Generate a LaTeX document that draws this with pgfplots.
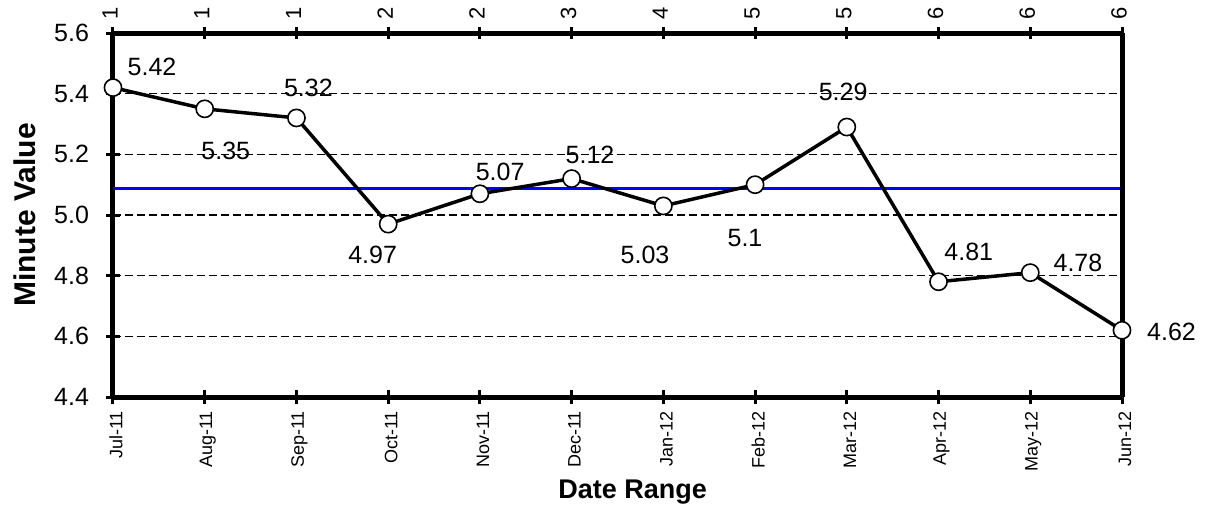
\documentclass[border=0pt]{standalone}
\usepackage{fontspec}
\setmainfont{Liberation Sans}
\usepackage{pgfplots}
\pgfplotsset{compat=1.18}

\pgfplotstableread{
x y
0  5.42
1  5.35
2  5.32
3  4.97
4  5.07
5  5.12
6  5.03
7  5.10
8  5.29
9  4.78
10 4.81
11 4.62
}\minutes

\begin{document}
\begin{tikzpicture}
\begin{axis}[
  scale only axis,
  width=504.5pt, height=182pt,
  xmin=0, xmax=11, ymin=4.4, ymax=5.6,
  axis line style={line width=2.5pt},
  axis x line*=bottom, axis y line*=left,
  xtick={0,...,11},
  xticklabels={Jul-11,Aug-11,Sep-11,Oct-11,Nov-11,Dec-11,Jan-12,Feb-12,Mar-12,Apr-12,May-12,Jun-12},
  xticklabel style={rotate=90, anchor=east, font=\fontsize{9}{10}\selectfont, yshift=-1.5pt},
  ytick={4.4,4.6,...,5.61},
  yticklabel style={font=\fontsize{12.5}{14}\selectfont, xshift=-5pt,
    /pgf/number format/.cd, fixed, fixed zerofill, precision=1},
  /pgf/number format/assume math mode=true,
  ymajorgrids, grid style={black, dash pattern=on 4pt off 2pt, line width=0.7pt},
  tick style={black, line width=1.5pt},
  major tick length=7pt,
  tick align=center,
  xlabel={\textbf{Date Range}},
  xlabel style={font=\fontsize{13.5}{15}\selectfont, at={(axis description cs:0.515,-0.261)}, anchor=center},
  ylabel={\textbf{Minute Value}},
  ylabel style={font=\fontsize{15}{17}\selectfont, at={(axis description cs:-0.0872,0.5)}, anchor=center},
  clip=false,
]
\addplot[blue, line width=1.5pt] coordinates {(0,5.086) (11,5.086)};
\addplot[black, line width=1.75pt, mark=*, mark size=4.3pt,
  mark options={fill=white, line width=0.8pt}] table[x=x, y=y] {\minutes};
\draw[line width=2.5pt] (axis cs:11,4.4) -- (axis cs:11,5.6);
\begin{scope}[font=\fontsize{12.5}{14}\selectfont]
\node at (axis cs:0.425,5.488) {5.42};
\node at (axis cs:1.23,5.211) {5.35};
\node at (axis cs:2.13,5.419) {5.32};
\node at (axis cs:2.83,4.868) {4.97};
\node at (axis cs:4.22,5.142) {5.07};
\node at (axis cs:5.2,5.198) {5.12};
\node at (axis cs:5.8,4.868) {5.03};
\node at (axis cs:6.89,4.924) {5.1};
\node at (axis cs:7.96,5.405) {5.29};
\node at (axis cs:9.33,4.878) {4.81};
\node at (axis cs:10.52,4.842) {4.78};
\node at (axis cs:11.54,4.614) {4.62};
\end{scope}
\end{axis}
\begin{axis}[
  scale only axis,
  width=504.5pt, height=182pt,
  xmin=0, xmax=11, ymin=4.4, ymax=5.6,
  axis x line*=top, axis y line=none,
  axis line style={line width=2.5pt},
  xtick={0,...,11},
  xticklabels={1,1,1,2,2,3,4,5,5,6,6,6},
  xticklabel style={rotate=90, anchor=west, font=\fontsize{11}{12}\selectfont, yshift=1.5pt},
  tick style={black, line width=1.5pt},
  major tick length=6pt,
  tick align=center,
]
\end{axis}
\pgfresetboundingbox
\path[use as bounding box] (-56.5pt,-57pt) rectangle (546.5pt,198.5pt);
\end{tikzpicture}
\end{document}
